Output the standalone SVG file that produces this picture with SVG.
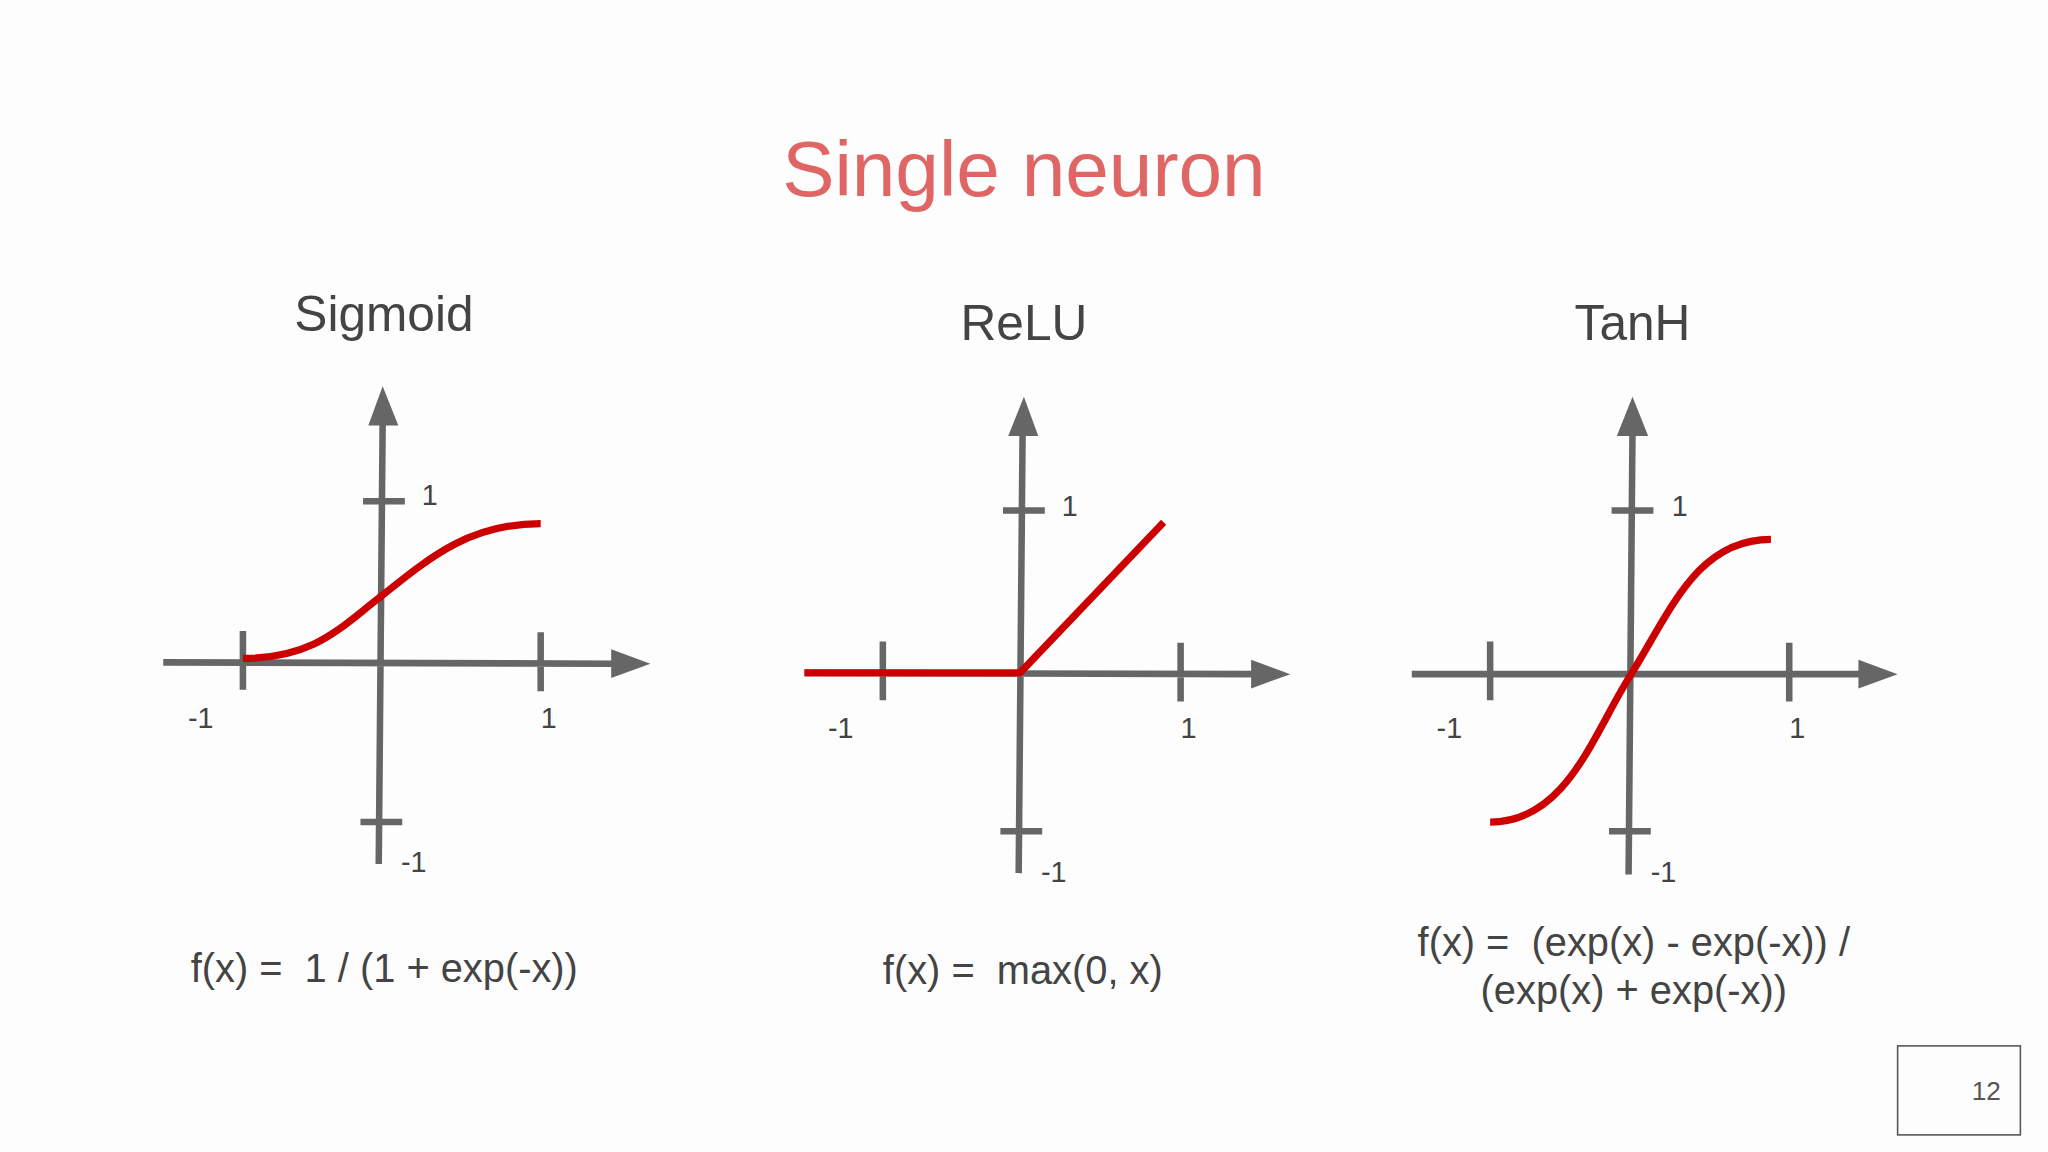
<svg xmlns="http://www.w3.org/2000/svg" width="2048" height="1152" viewBox="0 0 2048 1152">
<style>
.ax{stroke:#666;stroke-width:5;fill:none}
.ah{fill:#666}
.cv{stroke:#cc0000;stroke-width:5.5;fill:none}
.lb{font-family:"Liberation Sans",Arial,sans-serif;font-size:22px;fill:#444}
.tt{font-family:"Liberation Sans",Arial,sans-serif;font-size:38px;fill:#444;text-anchor:middle}
.fm{font-family:"Liberation Sans",Arial,sans-serif;font-size:30.5px;fill:#444;white-space:pre}
</style>
<rect width="2048" height="1152" fill="#fdfdfd"/>
<g transform="scale(1.306,1.309)">
<text x="784" y="150" font-family="Liberation Sans,Arial,sans-serif" font-size="60" fill="#e06666" text-anchor="middle">Single neuron</text>
<g id="sigmoid">
<text class="tt" x="294" y="253">Sigmoid</text>
<path class="ax" d="M125 506 L470 507 M290 660 L293 322 M186 482 V527 M414 483 V528 M278 383 H310 M276 628 H308"/>
<polygon class="ah" points="468,496 498,507 468,518"/>
<polygon class="ah" points="282,325 293,295 305,325"/>
<path class="cv" d="M186 503 C240 503 260 480 290 457 C330 425 360 400 414 400"/>
<text class="lb" x="323" y="386">1</text>
<text class="lb" x="144" y="556">-1</text>
<text class="lb" x="414" y="556">1</text>
<text class="lb" x="307" y="666">-1</text>
<text class="fm" x="146" y="750" xml:space="preserve">f(x) =  1 / (1 + exp(-x))</text>
</g>
<g id="relu">
<text class="tt" x="784" y="260">ReLU</text>
<path class="ax" d="M616 514 L960 515 M780 667 L783 330 M676 490 V535 M904 491 V536 M768 390 H800 M766 635 H798"/>
<polygon class="ah" points="958,504 988,515 958,526"/>
<polygon class="ah" points="772,333 784,303 795,333"/>
<path class="cv" d="M616 514 H781 L891 399"/>
<text class="lb" x="813" y="394">1</text>
<text class="lb" x="634" y="564">-1</text>
<text class="lb" x="904" y="564">1</text>
<text class="lb" x="797" y="674">-1</text>
<text class="fm" x="676" y="752" xml:space="preserve">f(x) =  max(0, x)</text>
</g>
<g id="tanh">
<text class="tt" x="1250" y="260">TanH</text>
<path class="ax" d="M1081 515 L1425 515 M1247 668 L1250 330 M1141 490 V535 M1370 491 V536 M1234 390 H1266 M1232 635 H1264"/>
<polygon class="ah" points="1423,504 1453,515 1423,526"/>
<polygon class="ah" points="1238,333 1250,303 1262,333"/>
<path class="cv" d="M1141 628 C1200 628 1220 560 1249 515 C1280 465 1300 412 1356 412"/>
<text class="lb" x="1280" y="394">1</text>
<text class="lb" x="1100" y="564">-1</text>
<text class="lb" x="1370" y="564">1</text>
<text class="lb" x="1264" y="674">-1</text>
<text class="fm" x="1251" y="730" text-anchor="middle" xml:space="preserve">f(x) =  (exp(x) - exp(-x)) /</text>
<text class="fm" x="1251" y="767" text-anchor="middle">(exp(x) + exp(-x))</text>
</g>
<g id="page">
<rect x="1453" y="799" width="94" height="68" fill="none" stroke="#555" stroke-width="1.2"/>
<text x="1532" y="840" font-family="Liberation Sans,Arial,sans-serif" font-size="20" fill="#555" text-anchor="end">12</text>
</g>
</g>
</svg>
